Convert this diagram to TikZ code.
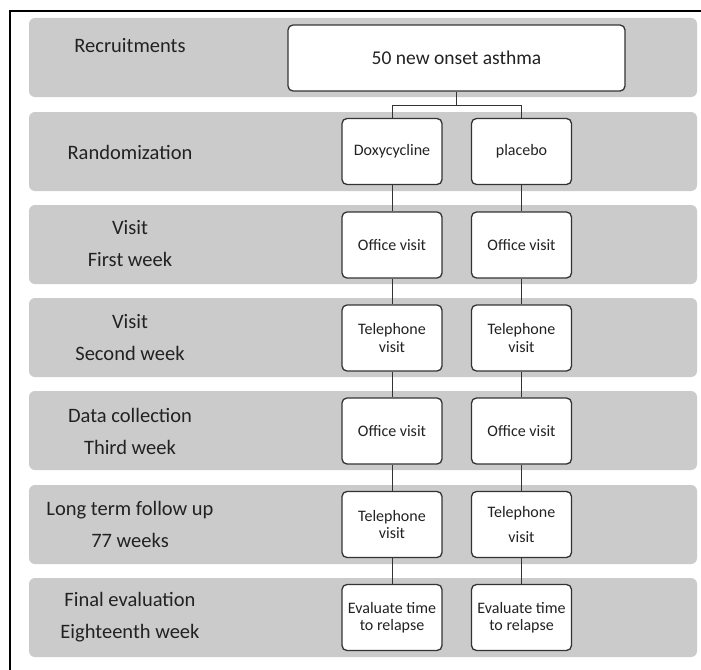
\documentclass[tikz,border=0pt]{standalone}
\usepackage{fontspec}
\setmainfont{Carlito}
\usetikzlibrary{positioning}
\definecolor{Band}{HTML}{CBCBCB}
\definecolor{Edge}{HTML}{333333}
\definecolor{Ink}{HTML}{222222}
\begin{document}
\begin{tikzpicture}[x=1pt,y=-1pt,
  band/.style={fill=Band, rounded corners=6pt},
  stage/.style={text=Ink, font=\fontsize{20.5}{32}\selectfont, align=center},
  box/.style={draw=Edge, line width=1.3pt, fill=white, rounded corners=5pt, minimum width=100pt, minimum height=66pt, inner sep=0pt, text=Ink, font=\fontsize{16}{17.5}\selectfont, align=center},
  link/.style={draw=Edge, line width=1pt}]
\useasboundingbox (0,0) rectangle (701,669);
\fill[white] (0,0) rectangle (701,669);
\draw[black, line width=2pt] (10,672) -- (10,11) -- (704,11);
\foreach \y in {18,112,205,298,391,485,578}
  \fill[band] (29,\y) rectangle (697,\y+79);
\node[stage] (rec) at (130,46) {Recruitments};
\node[stage] (rand) at (130,152) {Randomization};
\node[stage] (wk1) at (130,244) {Visit\\First week};
\node[stage] (wk2) at (130,338) {Visit\\Second week};
\node[stage] (wk3) at (130,431) {Data collection\\Third week};
\node[stage] (long) at (130,524) {Long term follow up\\77 weeks};
\node[stage] (final) at (130,617) {Final evaluation\\Eighteenth week};
\node[box, minimum width=337pt, font=\fontsize{19.5}{22}\selectfont] (onset) at (456.5,58) {50 new onset asthma};
\node[box] (dox) at (392,151.5) {Doxycycline};
\node[box] (pla) at (521.5,151.5) {placebo};
\node[box] (offA) at (392,245) {Office visit};
\node[box] (offB) at (521.5,245) {Office visit};
\node[box] (telA) at (392,338) {Telephone\\visit};
\node[box] (telB) at (521.5,338) {Telephone\\visit};
\node[box] (offC) at (392,431) {Office visit};
\node[box] (offD) at (521.5,431) {Office visit};
\node[box] (telC) at (392,524.5) {Telephone\\visit};
\node[box] (telD) at (521.5,524.5) {Telephone\\[7pt]visit};
\node[box] (evA) at (392,617.5) {Evaluate time\\to relapse};
\node[box] (evB) at (521.5,617.5) {Evaluate time\\to relapse};
\draw[link] (onset.south) -- ++(0,14) coordinate (split);
\draw[link] (split) -| (dox.north);
\draw[link] (split) -| (pla.north);
\foreach \a/\b in {dox/offA,offA/telA,telA/offC,offC/telC,telC/evA,pla/offB,offB/telB,telB/offD,offD/telD,telD/evB}
  \draw[link] (\a) -- (\b);
\end{tikzpicture}
\end{document}
